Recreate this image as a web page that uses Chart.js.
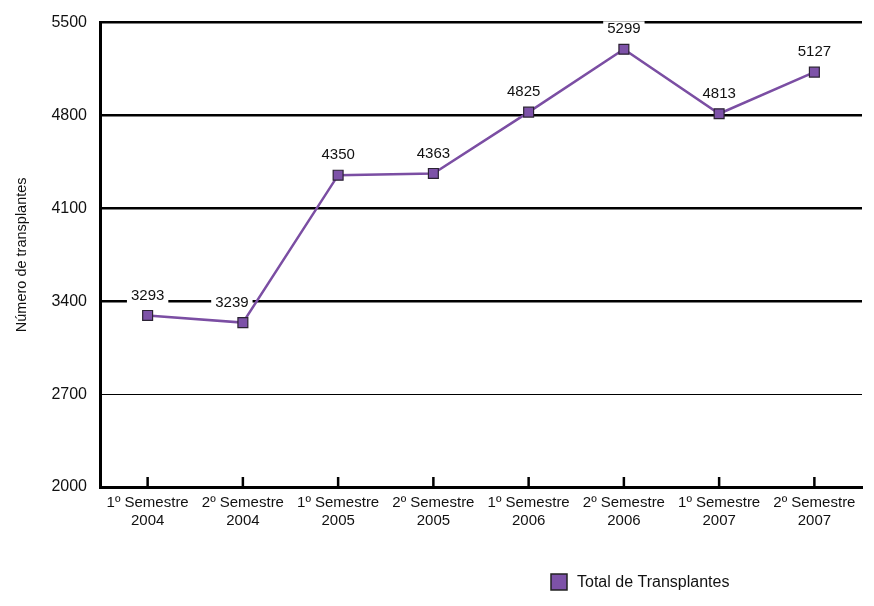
<!DOCTYPE html>
<html><head><meta charset="utf-8">
<script src="https://cdn.jsdelivr.net/npm/chart.js@4/dist/chart.umd.min.js"></script>
<style>html,body{margin:0;padding:0;background:#fff}#wrap{width:874px;height:606px}</style>
</head><body><div id="wrap"><canvas id="c" width="874" height="606"></canvas></div>
<script>
const categories = [["1º Semestre","2004"],["2º Semestre","2004"],["1º Semestre","2005"],["2º Semestre","2005"],["1º Semestre","2006"],["2º Semestre","2006"],["1º Semestre","2007"],["2º Semestre","2007"]];
const transplantes = [3293, 3239, 4350, 4363, 4825, 5299, 4813, 5127];
const yTicks = [2000, 2700, 3400, 4100, 4800, 5500];
const seriesName = "Total de Transplantes";
const yTitle = "Número de transplantes";

const FONT = "'Liberation Sans',Arial,sans-serif";
const LINE = '#7B4EA3';
const FILL = '#7D52A8';
const labelShift = [0, -11, 0, 0, -5, 0, 0, 0];

const extras = {
  id: 'extras',
  beforeDatasetsDraw(chart) {
    const ctx = chart.ctx;
    const xs = chart.scales.x, ca = chart.chartArea;
    ctx.save();
    ctx.strokeStyle = '#000'; ctx.lineWidth = 2.5;
    categories.forEach((c, i) => {
      const x = xs.getPixelForValue(i);
      ctx.beginPath(); ctx.moveTo(x, ca.bottom); ctx.lineTo(x, ca.bottom - 10); ctx.stroke();
    });
    ctx.restore();
    const meta = chart.getDatasetMeta(0);
    ctx.save();
    ctx.font = '15px ' + FONT;
    ctx.textAlign = 'center'; ctx.textBaseline = 'middle';
    meta.data.forEach((pt, i) => {
      const t = String(transplantes[i]);
      const w = ctx.measureText(t).width;
      const cx = pt.x + labelShift[i];
      const cy = pt.y - 20;
      ctx.fillStyle = '#fff';
      ctx.fillRect(cx - w/2 - 4, cy - 8, w + 8, 16);
      ctx.fillStyle = '#111';
      ctx.fillText(t, cx, cy);
    });
    ctx.restore();
  },
  afterDraw(chart) {
    const ctx = chart.ctx;
    ctx.save();
    ctx.fillStyle = FILL; ctx.strokeStyle = '#222'; ctx.lineWidth = 1.5;
    ctx.fillRect(551, 574, 16, 16); ctx.strokeRect(551, 574, 16, 16);
    ctx.fillStyle = '#111'; ctx.font = '16px ' + FONT;
    ctx.textAlign = 'left'; ctx.textBaseline = 'middle';
    ctx.fillText(seriesName, 577, 583);
    ctx.restore();
  }
};

new Chart(document.getElementById('c'), {
  type: 'line',
  data: {
    labels: categories,
    datasets: [{
      label: seriesName,
      data: transplantes,
      borderColor: LINE,
      borderWidth: 2.5,
      backgroundColor: FILL,
      pointStyle: 'rect',
      pointRadius: 7,
      pointHoverRadius: 7,
      pointBackgroundColor: FILL,
      pointBorderColor: '#2b2233',
      pointBorderWidth: 1.2,
      tension: 0
    }]
  },
  options: {
    responsive: false,
    animation: false,
    layout: { padding: { top: 21, right: 12, left: 0, bottom: 0 } },
    plugins: { legend: { display: false }, tooltip: { enabled: false } },
    scales: {
      x: {
        offset: true,
        grid: { display: false, drawTicks: false },
        border: { display: true, color: '#000', width: 3 },
        ticks: { color: '#111', font: { family: FONT, size: 15 }, padding: 7, maxRotation: 0, autoSkip: false },
        afterFit(s) { s.height = 119; }
      },
      y: {
        min: 2000, max: 5500,
        afterBuildTicks(s) { s.ticks = yTicks.map(v => ({ value: v })); },
        grid: {
          drawTicks: false,
          color: '#000',
          lineWidth: c => (c.tick && c.tick.value === 2700) ? 1 : (c.tick && c.tick.value === 2000 ? 0 : 2.5)
        },
        border: { display: true, color: '#000', width: 3 },
        title: { display: true, text: yTitle, color: '#111', font: { family: FONT, size: 14.5 }, padding: { top: 13, bottom: 0 } },
        ticks: { color: '#111', font: { family: FONT, size: 16 }, padding: 13, callback: v => String(v) },
        afterFit(s) { s.width = 100; }
      }
    }
  },
  plugins: [extras]
});
</script></body></html>
